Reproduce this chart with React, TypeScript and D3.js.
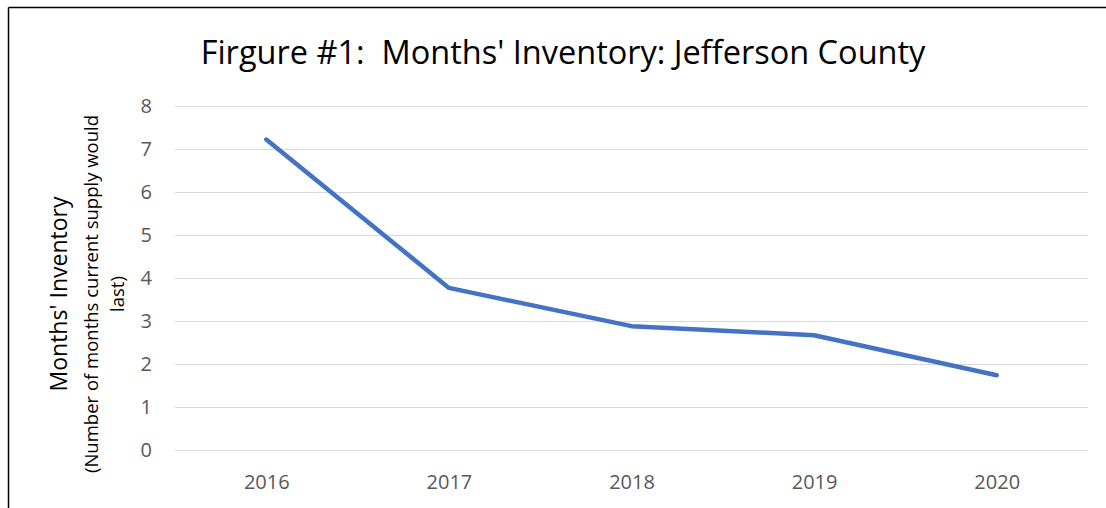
import React, { useEffect, useRef } from 'react';
import * as d3 from 'd3';

// chart data
const years = ['2016', '2017', '2018', '2019', '2020'];
const monthsInventory = [7.22, 3.77, 2.88, 2.67, 1.74];
const yTicks = [0, 1, 2, 3, 4, 5, 6, 7, 8];

const chartTitle = "Firgure #1:  Months' Inventory: Jefferson County";
const yTitle = "Months' Inventory";
const ySubtitle = ['(Number of months current supply would', 'last)'];

const width = 1106;
const height = 508;
const margin = { top: 106, right: 18, bottom: 58, left: 175 };
const FONT = "'Open Sans', sans-serif";

const App = () => {
  const svgRef = useRef<SVGSVGElement>(null);

  useEffect(() => {
    const svg = d3.select(svgRef.current);

    const xScale = d3.scalePoint<string>()
      .domain(years)
      .range([margin.left, width - margin.right])
      .padding(0.5);

    const yScale = d3.scaleLinear()
      .domain([0, 8])
      .range([height - margin.bottom, margin.top]);

    // Y axis + gridlines
    const yAxis = d3.axisLeft(yScale)
      .tickValues(yTicks)
      .tickSize(-(width - margin.right - margin.left))
      .tickSizeOuter(0)
      .tickPadding(23)
      .tickFormat(d3.format('d'));

    const gy = svg.select<SVGGElement>('.y-axis').call(yAxis);
    gy.select('.domain').remove();
    gy.selectAll('line').attr('stroke', '#d9d9d9').attr('stroke-width', 1.2);
    gy.selectAll('text')
      .attr('fill', '#595959')
      .style('font-family', FONT)
      .style('font-size', '20px');

    // X axis
    const xAxis = d3.axisBottom(xScale).tickSize(0).tickSizeOuter(0);
    const gx = svg.select<SVGGElement>('.x-axis').call(xAxis);
    gx.select('.domain').remove();
    gx.selectAll('text')
      .attr('y', 39)
      .attr('dy', 0)
      .attr('fill', '#595959')
      .style('font-family', FONT)
      .style('font-size', '20px');

    // line
    const theLine = d3.line<number>()
      .x((d, i) => xScale(years[i]) as number)
      .y(d => yScale(d));

    svg.selectAll('.line')
      .data([monthsInventory])
      .join('path')
      .attr('class', 'line')
      .attr('d', theLine)
      .attr('fill', 'none')
      .attr('stroke', '#4472c4')
      .attr('stroke-width', 4.5)
      .attr('stroke-linecap', 'round')
      .attr('stroke-linejoin', 'round');
  }, []);

  const midY = 294;

  return (
    <svg
      ref={svgRef}
      width={width}
      height={height}
      style={{ position: 'fixed', left: 0, top: 0, display: 'block', background: '#fff' }}
    >
      <rect x={0} y={0} width={width} height={height} fill="#fff" />
      {/* chart frame: only left and top edges are inside the picture */}
      <line x1={8.5} y1={7.5} x2={width} y2={7.5} stroke="#000" strokeWidth={1.5} />
      <line x1={8.5} y1={7.5} x2={8.5} y2={height} stroke="#000" strokeWidth={1.5} />
      <g className="y-axis" transform={`translate(${margin.left}, 0)`} />
      <g className="x-axis" transform={`translate(0, ${height - margin.bottom})`} />
      <text
        x={563}
        y={64}
        textAnchor="middle"
        fontFamily={FONT}
        fontSize={32.5}
        fill="#000"
        style={{ whiteSpace: 'pre' }}
      >
        {chartTitle}
      </text>
      <text
        transform={`translate(67, ${midY}) rotate(-90)`}
        textAnchor="middle"
        fontFamily={FONT}
        fontSize={23}
        fill="#000"
      >
        {yTitle}
      </text>
      {ySubtitle.map((s, i) => (
        <text
          key={i}
          transform={`translate(${98 + i * 26}, ${midY}) rotate(-90)`}
          textAnchor="middle"
          fontFamily={FONT}
          fontSize={18.5}
          fill="#000"
        >
          {s}
        </text>
      ))}
    </svg>
  );
};

export default App;
